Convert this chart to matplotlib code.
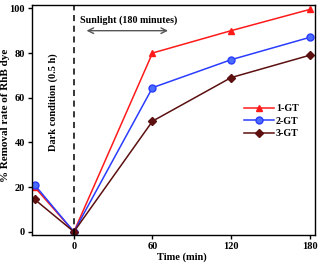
import matplotlib
matplotlib.use("Agg")
import matplotlib.pyplot as plt

plt.rcParams["font.family"] = "Liberation Serif"
plt.rcParams["font.weight"] = "bold"

time_min = [-30, 0, 60, 120, 180]
gt1 = [20.0, 0.0, 80.0, 90.0, 99.5]
gt2 = [21.0, 0.0, 64.5, 77.0, 87.0]
gt3 = [14.5, 0.0, 49.5, 69.0, 79.0]
labels = ["1-GT", "2-GT", "3-GT"]
xticks = [0, 60, 120, 180]
yticks = [0, 20, 40, 60, 80, 100]

fig = plt.figure(figsize=(3.2, 2.63), dpi=100)
ax = fig.add_axes([0.1, 0.106, 0.884, 0.875])

ax.plot(time_min, gt1, color="#ff1a1a", lw=1.1, marker="^", ms=5, label=labels[0])
ax.plot(time_min, gt2, color="#2a3cff", lw=1.1, marker="o", ms=5,
        mfc="#4a6cff", label=labels[1])
ax.plot(time_min, gt3, color="#5c1010", lw=1.1, marker="D", ms=4, label=labels[2])

ax.axvline(0, color="black", lw=1.1, ls=(0, (4, 3)))

ax.text(-16, 58, "Dark condition (0.5 h)", rotation=90, ha="center", va="center",
        fontsize=7.5, fontweight="bold")
ax.text(4.5, 94.7, "Sunlight (180 minutes)", ha="left", va="center",
        fontsize=7.2, fontweight="bold")
ax.annotate("", xy=(7.5, 90), xytext=(74, 90),
            arrowprops=dict(arrowstyle="<->", color="#555555", lw=1.0))

ax.set_xlim(-32, 184)
ax.set_ylim(-1.5, 101.5)
ax.set_xticks(xticks)
ax.set_yticks(yticks)
ax.tick_params(labelsize=7.5, length=3, width=1, pad=2)
for s in ax.spines.values():
    s.set_linewidth(1)

ax.set_xlabel("Time (min)", fontsize=7.5, fontweight="bold")
ax.xaxis.set_label_coords(0.53, -0.075)
ax.set_ylabel("% Removal rate of RhB dye", fontsize=8, fontweight="bold")
ax.yaxis.set_label_coords(-0.078, 0.52)

ax.legend(loc="center right", bbox_to_anchor=(0.975, 0.495), frameon=False,
          fontsize=7.2, handlelength=3.0, handletextpad=0.2, labelspacing=0.35)

fig.savefig("out.png", dpi=100)
